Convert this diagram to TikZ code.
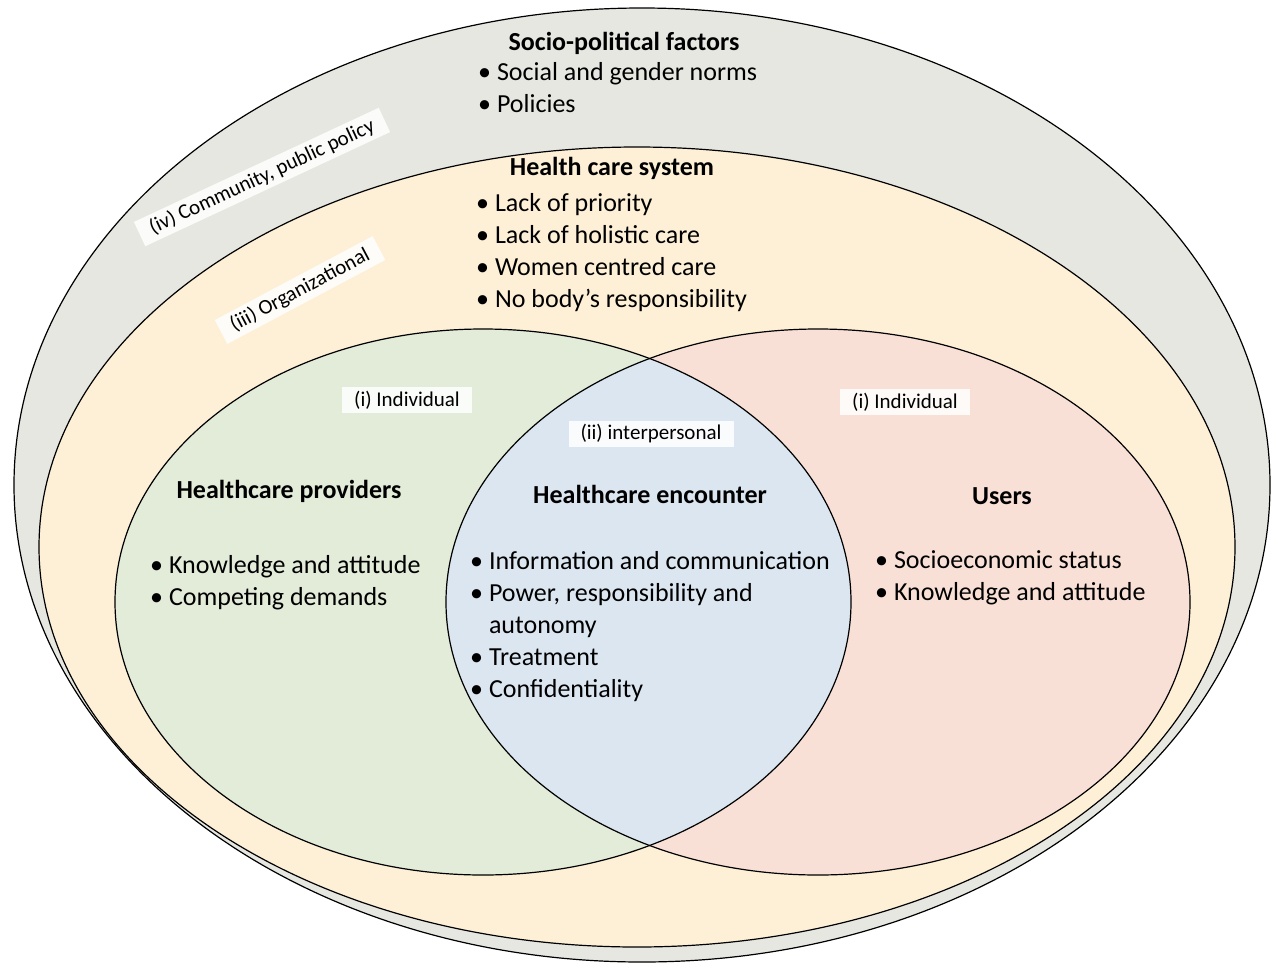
\documentclass[tikz,border=0pt]{standalone}
\usepackage{fontspec}
\setmainfont{Carlito}
\begin{document}
\begin{tikzpicture}[x=1pt,y=-1pt,
  ell/.style={draw=black, line width=1.2pt},
  hd/.style={font=\fontsize{26}{30}\selectfont\bfseries},
  lst/.style={font=\fontsize{26}{32}\selectfont, align=left, anchor=north west, inner sep=0pt},
  tag/.style={fill=white, fill opacity=0.85, text opacity=1, font=\fontsize{21}{25}\selectfont, inner xsep=12pt, inner ysep=4pt}]
\useasboundingbox (0,0) rectangle (1280,967);
\definecolor{cgray}{HTML}{E7E7E2}
\definecolor{cyel}{HTML}{FDF0D6}
\definecolor{cgrn}{HTML}{E3EBD9}
\definecolor{cpnk}{HTML}{F9E0D6}
\definecolor{cblu}{HTML}{DCE6F1}
\fill[cgray] (642,485) ellipse [x radius=628, y radius=477];
\fill[cyel] (637,547) ellipse [x radius=598, y radius=400];
\fill[cgrn] (483,602) ellipse [x radius=368, y radius=273];
\fill[cpnk] (818,602) ellipse [x radius=372, y radius=273];
\begin{scope}
\clip (483,602) ellipse [x radius=368, y radius=273];
\fill[cblu] (818,602) ellipse [x radius=372, y radius=273];
\end{scope}
\draw[ell] (642,485) ellipse [x radius=628, y radius=477];
\draw[ell] (637,547) ellipse [x radius=598, y radius=400];
\draw[ell] (483,602) ellipse [x radius=368, y radius=273];
\draw[ell] (818,602) ellipse [x radius=372, y radius=273];

\node[hd] (sp) at (624,43) {Socio-political factors};
\node[lst] (spl) at (478,62) {• Social and gender norms\\• Policies};
\node[hd] (hcs) at (612,168) {Health care system};
\node[lst] (hcl) at (476,193) {• Lack of priority\\• Lack of holistic care\\• Women centred care\\• No body’s responsibility};
\node[tag, rotate=25] (iv) at (262,177) {(iv) Community, public policy};
\node[tag, rotate=28] (iii) at (300,290) {(iii) Organizational};
\node[tag] (i1) at (407,400) {(i) Individual};
\node[tag] (i2) at (905,402) {(i) Individual};
\node[tag] (ii) at (651,434) {(ii) interpersonal};
\node[hd] (hp) at (289,491) {Healthcare providers};
\node[lst] (hpl) at (150,555) {• Knowledge and attitude\\• Competing demands};
\node[hd] (he) at (650,494) {Healthcare encounter};
\node[lst] (hel) at (470,551) {• Information and communication\\• Power, responsibility and\\\phantom{• }autonomy\\• Treatment\\• Confidentiality};
\node[hd] (us) at (1002,496) {Users};
\node[lst] (usl) at (875,550) {• Socioeconomic status\\• Knowledge and attitude};
\end{tikzpicture}
\end{document}
